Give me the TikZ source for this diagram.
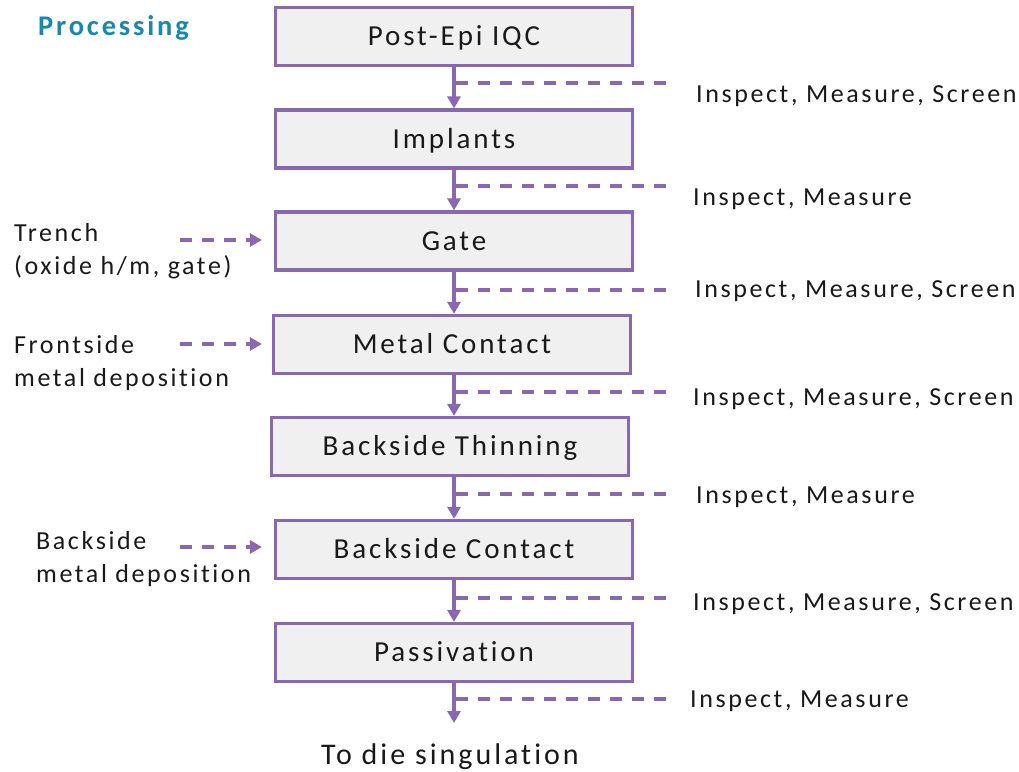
\documentclass[tikz,border=0pt]{standalone}
\usepackage{fontspec}
\setmainfont[LetterSpace=10,Ligatures=NoCommon]{Carlito}
\usetikzlibrary{arrows.meta,calc}
\definecolor{purp}{RGB}{138,103,178}
\definecolor{boxfill}{RGB}{240,240,240}
\definecolor{titleblue}{RGB}{27,134,174}
\definecolor{txt}{RGB}{25,25,25}
\begin{document}
\begin{tikzpicture}[x=1pt,y=-1pt,
  stepbox/.style={draw=purp,fill=boxfill,line width=3.2pt,minimum width=357pt,minimum height=58pt,inner sep=0pt,text=txt,text height=22pt,text depth=4pt,font=\fontsize{29}{34}\selectfont},
  flow/.style={draw=purp,line width=3.2pt,-{Triangle[width=13pt,length=12pt]}},
  dashline/.style={draw=purp,line width=3.2pt,dash pattern=on 12pt off 10pt},
  dasharrow/.style={draw=purp,line width=3.2pt,dash pattern=on 12pt off 10pt,-{Triangle[width=13pt,length=12pt]}},
  lbl/.style={anchor=west,inner sep=0pt,text=txt,font=\fontsize{26}{33}\selectfont,align=left}]
\useasboundingbox (0,0) rectangle (1019,771);
\node[anchor=west,inner sep=0pt,text=titleblue,font=\fontsize{28.5}{32}\selectfont\bfseries] (title) at (38,28) {Processing};
\coordinate (ax) at (454,0);
\node[stepbox] (b1) at (454,36.5) {Post-Epi IQC};
\node[stepbox] (b2) at (454,139) {Implants};
\node[stepbox] (b3) at (454,241) {Gate};
\node[stepbox] (b4) at (452,344.5) {Metal Contact};
\node[stepbox] (b5) at (450,446.5) {Backside Thinning};
\node[stepbox] (b6) at (454,549.5) {Backside Contact};
\node[stepbox] (b7) at (454,652.5) {Passivation};
\node[inner sep=0pt,text=txt,font=\fontsize{30}{34}\selectfont] (end) at (450,757) {To die singulation};
\coordinate (endtop) at (454,723);
% vertical flow
\draw[flow] (b1.south -| ax) -- (b2.north -| ax);
\draw[flow] (b2.south -| ax) -- (b3.north -| ax);
\draw[flow] (b3.south -| ax) -- (b4.north -| ax);
\draw[flow] (b4.south -| ax) -- (b5.north -| ax);
\draw[flow] (b5.south -| ax) -- (b6.north -| ax);
\draw[flow] (b6.south -| ax) -- (b7.north -| ax);
\draw[flow] (b7.south -| ax) -- (endtop);
% dashed inspection lines and labels
\foreach \i/\y/\lx/\ly/\t in {1/83/696/96/{Inspect, Measure, Screen},
  2/186/693/199/{Inspect, Measure},
  3/290/695/291/{Inspect, Measure, Screen},
  4/392/693/399/{Inspect, Measure, Screen},
  5/494/696/497/{Inspect, Measure},
  6/598/693/604/{Inspect, Measure, Screen},
  7/699/690/701/{Inspect, Measure}}{
  \coordinate (ds\i) at (456,\y);
  \coordinate (de\i) at (667,\y);
  \draw[dashline] (ds\i) -- (de\i);
  \node[lbl] (in\i) at (\lx,\ly) {\t};
}
% left inputs
\node[lbl] (l1) at (14,251) {Trench\\(oxide h/m, gate)};
\node[lbl] (l2) at (14,363) {Frontside\\metal deposition};
\node[lbl] (l3) at (36,559) {Backside\\metal deposition};
\coordinate (a1) at (180,240);
\coordinate (a2) at (180,344);
\coordinate (a3) at (180,547);
\draw[dasharrow] (a1) -- ($(a1 -| b3.west)+(-12,0)$);
\draw[dasharrow] (a2) -- ($(a2 -| b4.west)+(-10,0)$);
\draw[dasharrow] (a3) -- ($(a3 -| b6.west)+(-12,0)$);
\end{tikzpicture}
\end{document}
